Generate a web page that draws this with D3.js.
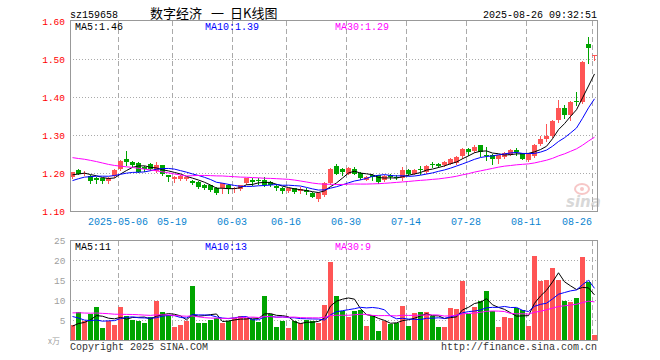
<!DOCTYPE html>
<html><head><meta charset="utf-8">
<script src="https://cdn.jsdelivr.net/npm/d3@7/dist/d3.min.js"></script>
<style>html,body{margin:0;padding:0;background:#fff;}svg{display:block}</style>
</head><body>
<svg id="c" width="660" height="360"></svg>
<script>
// ---------- data ----------
const code = "sz159658";
const titleParts = ["数字经济", "一", "日K线图"];
const stamp = "2025-08-26 09:32:51";
const dates = [
"2025-04-21","2025-04-22","2025-04-23","2025-04-24","2025-04-25","2025-04-28","2025-04-29","2025-04-30",
"2025-05-06","2025-05-07","2025-05-08","2025-05-09","2025-05-12","2025-05-13","2025-05-14","2025-05-15","2025-05-16",
"2025-05-19","2025-05-20","2025-05-21","2025-05-22","2025-05-23","2025-05-26","2025-05-27","2025-05-28","2025-05-29","2025-05-30",
"2025-06-03","2025-06-04","2025-06-05","2025-06-06","2025-06-09","2025-06-10","2025-06-11","2025-06-12","2025-06-13",
"2025-06-16","2025-06-17","2025-06-18","2025-06-19","2025-06-20","2025-06-23","2025-06-24","2025-06-25","2025-06-26","2025-06-27","2025-06-30",
"2025-07-01","2025-07-02","2025-07-03","2025-07-04","2025-07-07","2025-07-08","2025-07-09","2025-07-10","2025-07-11",
"2025-07-14","2025-07-15","2025-07-16","2025-07-17","2025-07-18","2025-07-21","2025-07-22","2025-07-23","2025-07-24","2025-07-25",
"2025-07-28","2025-07-29","2025-07-30","2025-07-31","2025-08-01","2025-08-04","2025-08-05","2025-08-06","2025-08-07","2025-08-08",
"2025-08-11","2025-08-12","2025-08-13","2025-08-14","2025-08-15","2025-08-18","2025-08-19","2025-08-20","2025-08-21","2025-08-22",
"2025-08-25","2025-08-26"];
const opens = [1.190,1.209,1.198,1.194,1.187,1.187,1.181,1.193,1.213,1.239,1.229,1.228,1.217,1.224,1.207,1.222,1.195,
1.185,1.186,1.185,1.181,1.178,1.170,1.169,1.162,1.161,1.171,1.159,1.159,1.174,1.184,1.183,1.184,1.178,1.167,1.163,
1.154,1.161,1.154,1.157,1.150,1.132,1.143,1.174,1.220,1.213,1.200,1.213,1.202,1.184,1.195,1.195,1.182,1.195,1.192,1.187,
1.209,1.200,1.213,1.204,1.226,1.226,1.222,1.226,1.228,1.245,1.264,1.259,1.274,1.250,1.250,1.239,1.243,1.250,1.262,1.253,
1.235,1.245,1.277,1.290,1.298,1.341,1.373,1.355,1.392,1.387,1.542,1.509];
const highs = [1.205,1.211,1.206,1.196,1.191,1.188,1.191,1.211,1.235,1.258,1.232,1.230,1.221,1.228,1.229,1.223,1.196,
1.193,1.195,1.192,1.183,1.180,1.172,1.170,1.164,1.176,1.173,1.165,1.171,1.189,1.188,1.188,1.190,1.180,1.172,1.165,
1.163,1.163,1.165,1.163,1.152,1.152,1.177,1.215,1.225,1.215,1.218,1.216,1.204,1.193,1.198,1.197,1.195,1.200,1.195,1.217,
1.211,1.211,1.220,1.222,1.229,1.228,1.232,1.240,1.245,1.268,1.266,1.274,1.276,1.270,1.252,1.250,1.256,1.264,1.268,1.255,
1.255,1.278,1.300,1.329,1.341,1.394,1.380,1.390,1.414,1.495,1.559,1.513];
const lows = [1.188,1.198,1.195,1.176,1.174,1.176,1.175,1.190,1.210,1.222,1.219,1.203,1.207,1.210,1.205,1.196,1.181,
1.177,1.184,1.182,1.173,1.162,1.158,1.154,1.146,1.149,1.150,1.152,1.157,1.172,1.170,1.172,1.167,1.166,1.156,1.150,
1.152,1.150,1.148,1.145,1.137,1.127,1.140,1.172,1.198,1.195,1.198,1.198,1.185,1.182,1.182,1.176,1.180,1.185,1.185,1.184,
1.196,1.198,1.200,1.202,1.216,1.216,1.220,1.224,1.226,1.242,1.248,1.257,1.245,1.235,1.226,1.228,1.241,1.248,1.248,1.237,
1.233,1.243,1.275,1.285,1.296,1.335,1.345,1.340,1.379,1.385,1.490,1.498];
const closes = [1.203,1.200,1.202,1.181,1.184,1.180,1.187,1.209,1.233,1.230,1.222,1.205,1.211,1.213,1.222,1.198,1.190,
1.191,1.193,1.190,1.175,1.165,1.162,1.156,1.149,1.174,1.159,1.163,1.169,1.187,1.178,1.180,1.169,1.169,1.162,1.154,
1.161,1.152,1.158,1.151,1.139,1.149,1.175,1.213,1.200,1.203,1.215,1.200,1.187,1.191,1.191,1.178,1.193,1.190,1.188,1.209,
1.198,1.209,1.209,1.220,1.222,1.219,1.230,1.237,1.243,1.265,1.257,1.271,1.257,1.247,1.237,1.248,1.254,1.262,1.257,1.239,
1.253,1.274,1.292,1.300,1.338,1.373,1.353,1.387,1.388,1.494,1.529,1.512];
const volumes = [3.9,7.25,4.8,6.7,8.5,3.1,4.8,4.0,8.5,6.25,5.25,5.0,4.3,6.0,9.8,7.1,6.4,
3.5,4.0,4.8,13.75,4.3,4.3,5.2,5.6,4.3,5.0,5.6,6.25,5.7,5.4,4.6,11.25,6.7,3.5,5.0,
3.25,5.0,4.4,5.2,5.0,4.3,9.0,19.6,11.25,7.5,5.8,7.5,7.75,3.75,6.1,2.5,5.0,4.2,4.3,8.75,
3.75,6.8,7.1,7.1,6.25,3.5,3.5,8.25,8.0,15.0,6.7,8.3,9.8,12.5,7.3,3.5,5.8,5.6,8.2,7.7,
3.75,21.25,14.8,15.25,18.1,15.25,10.0,9.75,10.6,20.8,14.6,1.25];
// 29 sessions before the first visible one, estimated so that the moving
// averages start where the picture shows them at the left edge
const priorCloses = [1.27,1.26,1.27,1.28,1.29,1.30,1.29,1.29,1.28,1.27,1.28,1.27,1.28,1.29,1.28,1.27,1.28,1.27,1.27,
1.15,1.15,1.16,1.17,1.17,1.18,1.19,1.19,1.20,1.20];
const priorVolumes = [6,7,8,7,6,7,8,9,7,6,7,7,8,6,7,7,8,7,7,12,11,10,8,7,6,4,3.5,3.3,3.3];
const tickDates = ["2025-05-06","2025-05-19","2025-06-03","2025-06-16","2025-06-30","2025-07-14","2025-07-28","2025-08-11","2025-08-26"];
const tickLabels = ["2025-05-06","05-19","06-03","06-16","06-30","07-14","07-28","08-11","08-26"];
const priceTicks = [1.10,1.20,1.30,1.40,1.50,1.60];
const volTicks = [5,10,15,20,25];
const maPeriods = [5,10,30];

// ---------- styles ----------
const RED = "#ff5555", GREEN = "#00a400";
const maColors = ["#000000","#0000ff","#ff00ff"];
const MONO = "'Liberation Mono','DejaVu Sans Mono',monospace";
const GRID = "#aaaaaa";

const svg = d3.select("#c");
const L = 70, R = 598;
const x = d3.scaleLinear().domain([0, dates.length]).range([L, R]);
const y = d3.scaleLinear().domain([1.10, 1.60]).range([211.5, 21.5]);
const yv = d3.scaleLinear().domain([0, 25]).range([340.5, 240.5]);

function movingAvg(arr, prior, n) {
  const all = prior.concat(arr);
  return arr.map((_, i) => d3.mean(all.slice(prior.length + i - n + 1, prior.length + i + 1)));
}
const trunc = (v, d) => (Math.floor(v * Math.pow(10, d) + 1e-9) / Math.pow(10, d)).toFixed(d);
const priceMA = maPeriods.map(n => movingAvg(closes, priorCloses, n));
const volMA = maPeriods.map(n => movingAvg(volumes, priorVolumes, n));

// ---------- header ----------
svg.append("text").attr("x", 70).attr("y", 17.5).attr("font-family", MONO).attr("font-size", 10).attr("fill", "#000").text(code);
const tt = svg.append("text").attr("y", 17.5).attr("font-family", "'Noto Sans CJK SC',sans-serif").attr("font-size", 13).attr("fill", "#000");
const titleX = [150, 211, 230];
titleParts.forEach((t, k) => tt.append("tspan").attr("x", titleX[k]).text(t));
svg.append("text").attr("x", 597).attr("y", 17.5).attr("text-anchor", "end").attr("font-family", MONO).attr("font-size", 10).attr("fill", "#000").text(stamp);

// ---------- grids ----------
const grid = svg.append("g");
priceTicks.filter(p => p > 1.10 && p < 1.60).forEach(p => {
  grid.append("line").attr("x1", L).attr("x2", R).attr("y1", y(p)).attr("y2", y(p))
    .attr("stroke", GRID).attr("stroke-dasharray", "1,2");
});
volTicks.filter(v => v < 25).forEach(v => {
  grid.append("line").attr("x1", L).attr("x2", R).attr("y1", yv(v)).attr("y2", yv(v))
    .attr("stroke", GRID).attr("stroke-dasharray", "1,2");
});
tickDates.forEach(d => {
  const xi = x(dates.indexOf(d)) + 0.5;
  grid.append("line").attr("x1", xi).attr("x2", xi).attr("y1", 21).attr("y2", 211)
    .attr("stroke", GRID).attr("stroke-dasharray", "5,3");
  grid.append("line").attr("x1", xi).attr("x2", xi).attr("y1", 241).attr("y2", 340)
    .attr("stroke", GRID).attr("stroke-dasharray", "5,3");
});

// ---------- watermark ----------
const wm = svg.append("g").attr("opacity", 0.55);
wm.append("ellipse").attr("cx", 582).attr("cy", 189).attr("rx", 7).attr("ry", 5).attr("fill", "none").attr("stroke", "#f19a9a").attr("stroke-width", 2);
wm.append("circle").attr("cx", 582).attr("cy", 189).attr("r", 2).attr("fill", "#f19a9a");
wm.append("text").attr("x", 566).attr("y", 207).attr("font-family", "'DejaVu Sans',sans-serif").attr("font-style", "italic").attr("font-weight", "bold").attr("font-size", 15).attr("fill", "#b9b9b9").text("sina");

// ---------- candles ----------
const cg = svg.append("g");
dates.forEach((d, i) => {
  const up = closes[i] >= opens[i];
  const col = up ? RED : GREEN;
  const xl = x(i);
  cg.append("line").attr("x1", xl + 2.5).attr("x2", xl + 2.5)
    .attr("y1", Math.round(y(highs[i]))).attr("y2", Math.round(y(lows[i])) + 1)
    .attr("stroke", col).attr("stroke-width", 1);
  const y0 = Math.round(y(Math.max(opens[i], closes[i])));
  const y1 = Math.round(y(Math.min(opens[i], closes[i])));
  cg.append("rect").attr("x", xl).attr("y", y0).attr("width", 5).attr("height", Math.max(1, y1 - y0)).attr("fill", col);
});

// ---------- volume bars ----------
const vg = svg.append("g");
dates.forEach((d, i) => {
  const up = closes[i] >= opens[i];
  const top = Math.round(yv(volumes[i]));
  vg.append("rect").attr("x", x(i)).attr("y", top).attr("width", 5).attr("height", 340.5 - top - 0.5)
    .attr("fill", up ? RED : GREEN);
});

// ---------- moving average lines ----------
const lineP = d3.line().x((v, i) => x(i) + 2.5).y(v => y(v));
const lineV = d3.line().x((v, i) => x(i) + 2.5).y(v => yv(v));
priceMA.forEach((s, k) => svg.append("path").attr("d", lineP(s)).attr("fill", "none").attr("stroke", maColors[k]).attr("stroke-width", 1));
volMA.forEach((s, k) => svg.append("path").attr("d", lineV(s)).attr("fill", "none").attr("stroke", maColors[k]).attr("stroke-width", 1));

// ---------- frames ----------
svg.append("rect").attr("x", L + 0.5).attr("y", 20.5).attr("width", R - L - 1).attr("height", 191).attr("fill", "none").attr("stroke", "#999");
svg.append("rect").attr("x", L + 0.5).attr("y", 240.5).attr("width", R - L - 1).attr("height", 100).attr("fill", "none").attr("stroke", "#999");

// ---------- legends ----------
const legX = [75, 205, 335];
maPeriods.forEach((n, k) => {
  svg.append("text").attr("x", legX[k]).attr("y", 29.5).attr("font-family", MONO).attr("font-size", 10)
    .attr("fill", maColors[k]).text("MA" + n + ":" + trunc(priceMA[k][priceMA[k].length - 1], 2));
  svg.append("text").attr("x", legX[k]).attr("y", 250).attr("font-family", MONO).attr("font-size", 10)
    .attr("fill", maColors[k]).text("MA" + n + ":" + trunc(volMA[k][volMA[k].length - 1], 0));
});

// ---------- axes labels ----------
priceTicks.forEach(p => {
  svg.append("text").attr("x", 65).attr("y", y(p) + 3.8).attr("text-anchor", "end").attr("font-family", MONO)
    .attr("font-size", 9.5).attr("fill", "#ff0000").text(p.toFixed(2));
});
volTicks.forEach(v => {
  svg.append("text").attr("x", 65.5).attr("y", yv(v) + 3.5).attr("text-anchor", "end").attr("font-family", MONO)
    .attr("font-size", 9.5).attr("fill", "#a0a0a0").text(v);
});
svg.append("text").attr("x", 60).attr("y", 344).attr("text-anchor", "end").attr("font-family", "'Noto Sans CJK SC',sans-serif")
  .attr("font-size", 8).attr("fill", "#a0a0a0").text("x万");
tickDates.forEach((d, k) => {
  const xi = x(dates.indexOf(d));
  const last = k === tickDates.length - 1;
  svg.append("text").attr("x", xi).attr("y", 224.5).attr("text-anchor", last ? "end" : "middle")
    .attr("font-family", MONO).attr("font-size", 10).attr("fill", "#0a84d0").text(tickLabels[k]);
});

// ---------- footer ----------
svg.append("text").attr("x", 70).attr("y", 349.5).attr("font-family", MONO).attr("font-size", 10).attr("fill", "#333").text("Copyright 2025 SINA.COM");
svg.append("text").attr("x", 597).attr("y", 349.5).attr("text-anchor", "end").attr("font-family", MONO).attr("font-size", 10).attr("fill", "#333").text("http://finance.sina.com.cn");
</script>
</body></html>
